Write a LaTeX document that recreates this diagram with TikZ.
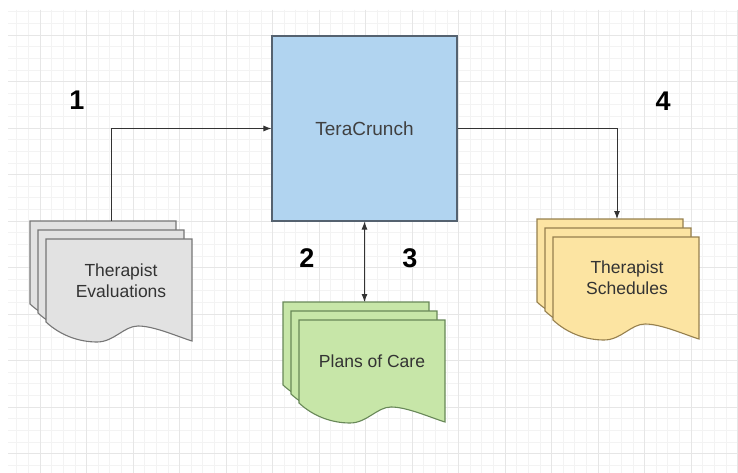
\documentclass[tikz,border=0pt]{standalone}
\usepackage{fontspec}
\setmainfont{Liberation Sans}
\usetikzlibrary{arrows.meta}

\definecolor{boxblue}{RGB}{177,212,240}
\definecolor{boxblueline}{RGB}{85,98,112}
\definecolor{docgrey}{RGB}{226,226,226}
\definecolor{docgreyline}{RGB}{118,118,118}
\definecolor{docgreen}{RGB}{199,230,168}
\definecolor{docgreenline}{RGB}{104,136,88}
\definecolor{docyellow}{RGB}{252,228,162}
\definecolor{docyellowline}{RGB}{150,128,78}
\definecolor{gridminor}{RGB}{243,243,243}
\definecolor{gridmajor}{RGB}{230,230,230}

% one page with a wavy bottom edge, top left corner at (#1,#2)
\newcommand{\docpage}[3]{
    \begin{scope}[shift={(#1,#2)}]
        \draw[#3] (0,0) -- (146,0) -- (146,102)
            .. controls (130,97) and (108,87) .. (92,87)
            .. controls (78,87) and (68,103) .. (51,103)
            .. controls (34,103) and (15,97) .. (0,83) -- cycle;
    \end{scope}
}
% three pages stacked, back page first
\newcommand{\docstack}[3]{
    \docpage{#1}{#2}{#3}
    \docpage{#1+8}{#2+9}{#3}
    \docpage{#1+16}{#2+18}{#3}
}

\begin{document}
\begin{tikzpicture}[x=1pt,y=-1pt,
        >={Latex[length=8pt,width=6pt]},
        evalpage/.style={fill=docgrey,draw=docgreyline,line width=1.1pt},
        carepage/.style={fill=docgreen,draw=docgreenline,line width=1.1pt},
        schedpage/.style={fill=docyellow,draw=docyellowline,line width=1.1pt},
        doctext/.style={align=center,text=black!80,font=\fontsize{17.5}{21}\selectfont},
        num/.style={font=\fontsize{27}{30}\selectfont\bfseries},
        link/.style={draw=black!80,line width=0.9pt}]
    \useasboundingbox (0,0) rectangle (738,473);
    \fill[white] (0,0) rectangle (738,473);
    \begin{scope}
        \clip (8,10) rectangle (738,473);
        \foreach \i in {0,...,63}
            \draw[gridminor,line width=0.6pt] (5.1+11.625*\i,10) -- (5.1+11.625*\i,473);
        \foreach \i in {0,...,40}
            \draw[gridminor,line width=0.6pt] (8,11.75+11.625*\i) -- (738,11.75+11.625*\i);
        \foreach \i in {0,...,15}
            \draw[gridmajor,line width=0.8pt] (40+46.5*\i,10) -- (40+46.5*\i,473);
        \foreach \i in {0,...,9}
            \draw[gridmajor,line width=0.8pt] (8,35+46.5*\i) -- (738,35+46.5*\i);
    \end{scope}

    \node[draw=boxblueline,fill=boxblue,line width=1.1pt,minimum width=185pt,minimum height=185pt,
        text=black!75,font=\fontsize{19}{22}\selectfont] (tera) at (364.5,128.5) {TeraCrunch};

    \docstack{30}{221}{evalpage}
    \docstack{283}{302}{carepage}
    \docstack{537}{219}{schedpage}

    \node[doctext] (eval) at (121,281) {Therapist\\Evaluations};
    \node[doctext] (care) at (372,361) {Plans of Care};
    \node[doctext] (sched) at (627,278) {Therapist\\Schedules};

    \coordinate (evaltop) at (111,221);
    \coordinate (caretop) at (364.5,302);
    \coordinate (schedtop) at (617,219);

    \draw[link,->] (evaltop) |- (tera.west);
    \draw[link,->] (tera.east) -| (schedtop);
    \draw[link,<->] (tera.south) -- (caretop);

    \node[num] (n1) at (77,100) {1};
    \node[num] (n2) at (307,258) {2};
    \node[num] (n3) at (410,258) {3};
    \node[num] (n4) at (663,101) {4};
\end{tikzpicture}
\end{document}
